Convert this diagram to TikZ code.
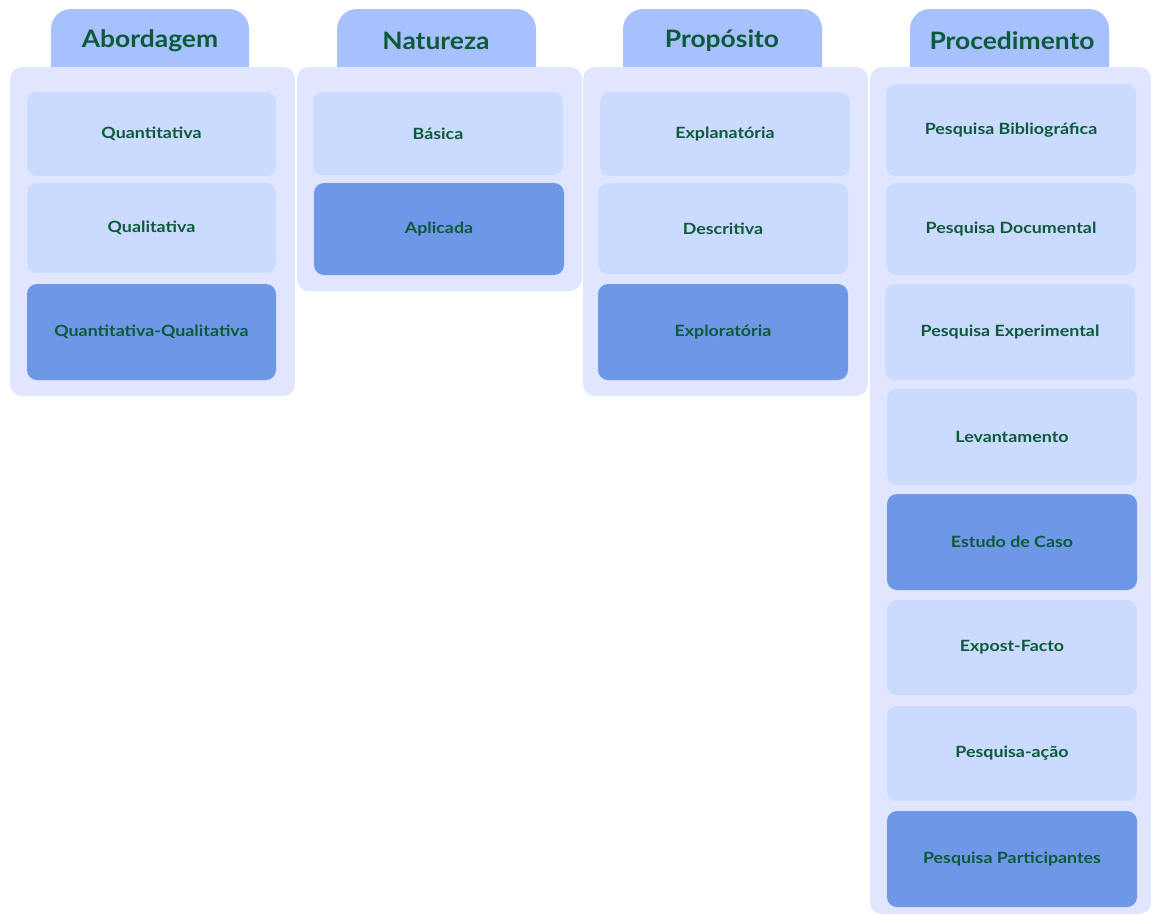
\documentclass[tikz,border=0pt]{standalone}
\usepackage{fontspec}
\setmainfont{Lato}
\newfontfamily\itemfont{Lato}[FakeStretch=1.15]
\newfontfamily\headfont{Lato}[FakeStretch=1.1]
\definecolor{tabc}{HTML}{A6C1FD}
\definecolor{panelc}{HTML}{E0E6FF}
\definecolor{lightc}{HTML}{CBDAFF}
\definecolor{darkc}{HTML}{6F97E8}
\definecolor{inkc}{HTML}{0C5A3A}
\tikzset{
  tabbox/.style={fill=tabc, rounded corners=20pt, inner sep=0pt},
  panel/.style={fill=panelc, rounded corners=12pt, inner sep=0pt},
  head/.style={text=inkc, font=\headfont\bfseries\fontsize{24}{28}\selectfont, inner sep=0pt},
  itemlight/.style={fill=lightc, rounded corners=10pt, inner sep=0pt, text=inkc, font=\itemfont\bfseries\fontsize{15.5}{18}\selectfont},
  itemdark/.style={itemlight, fill=darkc},
}
% box from (x1,y1) to (x2,y2) as a named node
\newcommand{\boxat}[7]{%
  \node[#6, minimum width={#4-#2}, minimum height={#5-#3}] (#1) at ({(#2+#4)/2},{(#3+#5)/2}) {#7};}
\begin{document}
\begin{tikzpicture}[x=1pt,y=-1pt]
\useasboundingbox (0,0) rectangle (1151,914);
% header tabs (their lower part is hidden by the panels)
\boxat{tA}{51}{9}{249}{90}{tabbox}{}
\boxat{tB}{337}{9}{536}{90}{tabbox}{}
\boxat{tC}{623}{9}{822}{90}{tabbox}{}
\boxat{tD}{910}{9}{1109}{90}{tabbox}{}
\node[head] (hA) at (150,41) {Abordagem};
\node[head] (hB) at (436,41) {Natureza};
\node[head] (hC) at (722,41) {Propósito};
\node[head] (hD) at (1012,41) {Procedimento};
% panels
\boxat{pA}{10}{67}{295}{396}{panel}{}
\boxat{pB}{297}{67}{582}{291}{panel}{}
\boxat{pC}{583}{67}{868}{396}{panel}{}
\boxat{pD}{870}{67}{1151}{914}{panel}{}
% Abordagem
\boxat{a1}{27}{92}{276}{176}{itemlight}{Quantitativa}
\boxat{a2}{27}{183}{276}{273}{itemlight}{Qualitativa}
\boxat{a3}{27}{284}{276}{380}{itemdark}{Quantitativa-Qualitativa}
% Natureza
\boxat{b1}{313}{92}{563}{175}{itemlight}{Básica}
\boxat{b2}{314}{183}{564}{275}{itemdark}{Aplicada}
% Propósito
\boxat{c1}{600}{92}{850}{176}{itemlight}{Explanatória}
\boxat{c2}{598}{183}{848}{274}{itemlight}{Descritiva}
\boxat{c3}{598}{284}{848}{380}{itemdark}{Exploratória}
% Procedimento
\boxat{d1}{886}{84}{1136}{176}{itemlight}{Pesquisa Bibliográfica}
\boxat{d2}{886}{183}{1136}{275}{itemlight}{Pesquisa Documental}
\boxat{d3}{885}{284}{1135}{380}{itemlight}{Pesquisa Experimental}
\boxat{d4}{887}{389}{1137}{485}{itemlight}{Levantamento}
\boxat{d5}{887}{494}{1137}{590}{itemdark}{Estudo de Caso}
\boxat{d6}{887}{600}{1137}{695}{itemlight}{Expost-Facto}
\boxat{d7}{887}{706}{1137}{801}{itemlight}{Pesquisa-ação}
\boxat{d8}{887}{811}{1137}{907}{itemdark}{Pesquisa Participantes}
\end{tikzpicture}
\end{document}
